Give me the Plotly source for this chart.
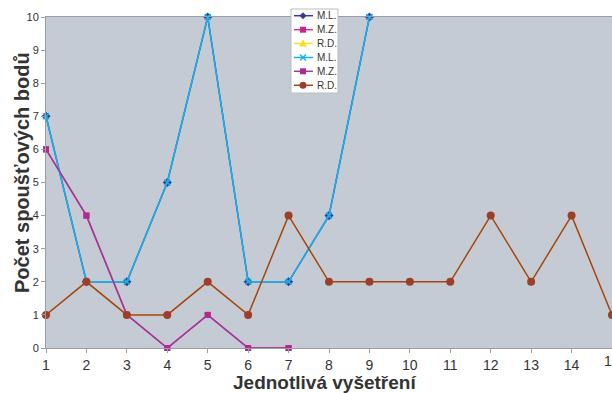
import plotly.graph_objects as go

x_ml = [1, 2, 3, 4, 5, 6, 7, 8, 9]
ml = [7, 2, 2, 5, 10, 2, 2, 4, 10]
x_mz = [1, 2, 3, 4, 5, 6, 7]
mz = [6, 4, 1, 0, 1, 0, 0]
x_rd = list(range(1, 16))
rd = [1, 2, 1, 1, 2, 1, 4, 2, 2, 2, 2, 4, 2, 4, 1]
x_ticks = list(range(1, 16))
y_ticks = list(range(0, 11))
legend_names = ["M.L.", "M.Z.", "R.D.", "M.L.", "M.Z.", "R.D."]

W, H = 612, 393
L, R, T, B = 46, 0, 17, 45
PW, PH = W - L - R, H - T - B

def px(xp):
    return (xp - L) / PW

def py(yp):
    return (H - B - yp) / PH

styles = [
    dict(line="#3a3a96", marker="#3a3a96", symbol="diamond", size=7),
    dict(line="#e0308f", marker="#c8248c", symbol="square", size=6),
    dict(line="#f2e21c", marker="#f2e21c", symbol="triangle-up", size=8),
    dict(line="#19b2e6", marker="#19b2e6", symbol="x-thin", size=6),
    dict(line="#9a3c98", marker="#b02a90", symbol="square", size=6),
    dict(line="#9e4130", marker="#9c3e2c", symbol="circle", size=8),
]
series = [(x_ml, ml), (x_mz, mz), (x_rd, rd), (x_ml, ml), (x_mz, mz), (x_rd, rd)]
tick_font = dict(family="Liberation Sans Narrow, Arial Narrow, sans-serif", size=14, color="#333333")

fig = go.Figure()
for (xs, ys), name, st in zip(series, legend_names, styles):
    mk = dict(symbol=st["symbol"], size=st["size"], color=st["marker"])
    if st["symbol"] == "x-thin":
        mk["line"] = dict(color=st["marker"], width=1.5)
    fig.add_trace(go.Scatter(x=xs, y=ys, name=name, mode="lines+markers", cliponaxis=False,
                             line=dict(color=st["line"], width=1.5), marker=mk, showlegend=False))

# custom compact legend (layout decoration)
shapes = []
annotations = []
box_x0, box_x1, box_y0, box_y1 = 291, 338, 9, 93
shapes.append(dict(type="rect", xref="paper", yref="paper", x0=px(box_x0), x1=px(box_x1),
                   y0=py(box_y1), y1=py(box_y0), fillcolor="white",
                   line=dict(color="#bdbdbd", width=1), layer="above"))
item_y = [15.7, 29.7, 43.5, 57.5, 71.3, 85.3]
mx = 303
for yy, name, st in zip(item_y, legend_names, styles):
    shapes.append(dict(type="line", xref="paper", yref="paper", x0=px(294), x1=px(313),
                       y0=py(yy), y1=py(yy), line=dict(color=st["line"], width=1.5), layer="above"))
    s = st["symbol"]
    c = st["marker"]
    if s == "diamond":
        d = 3.5
        path = f"M {px(mx-d)} {py(yy)} L {px(mx)} {py(yy-d)} L {px(mx+d)} {py(yy)} L {px(mx)} {py(yy+d)} Z"
        shapes.append(dict(type="path", xref="paper", yref="paper", path=path, fillcolor=c,
                           line=dict(color=c, width=0), layer="above"))
    elif s == "square":
        d = 3
        shapes.append(dict(type="rect", xref="paper", yref="paper", x0=px(mx-d), x1=px(mx+d),
                           y0=py(yy+d), y1=py(yy-d), fillcolor=c, line=dict(color=c, width=0), layer="above"))
    elif s == "triangle-up":
        d = 4
        path = f"M {px(mx-d)} {py(yy+3)} L {px(mx)} {py(yy-4)} L {px(mx+d)} {py(yy+3)} Z"
        shapes.append(dict(type="path", xref="paper", yref="paper", path=path, fillcolor=c,
                           line=dict(color=c, width=0), layer="above"))
    elif s == "x-thin":
        d = 3
        for (a, b, cc, dd) in [(mx-d, yy-d, mx+d, yy+d), (mx-d, yy+d, mx+d, yy-d)]:
            shapes.append(dict(type="line", xref="paper", yref="paper", x0=px(a), x1=px(cc),
                               y0=py(b), y1=py(dd), line=dict(color=c, width=1.5), layer="above"))
    elif s == "circle":
        d = 3.5
        shapes.append(dict(type="circle", xref="paper", yref="paper", x0=px(mx-d), x1=px(mx+d),
                           y0=py(yy+d), y1=py(yy-d), fillcolor=c, line=dict(color=c, width=0), layer="above"))
    annotations.append(dict(text=name, xref="paper", yref="paper", x=px(314.5), y=py(yy),
                            xanchor="left", yanchor="middle", showarrow=False,
                            font=dict(size=10, color="#333333")))

# last tick label (cut by the right edge like in the source)
annotations.append(dict(text=str(x_ticks[-1]), xref="x", yref="paper", x=x_ticks[-1], y=py(361),
                        xanchor="center", yanchor="middle", showarrow=False, font=tick_font))
annotations.append(dict(text="Jednotlivá vyšetření", xref="paper", yref="paper",
                        x=px(324), y=py(382), xanchor="center", yanchor="middle", showarrow=False,
                        font=dict(size=19, color="#333333", weight="bold")))
annotations.append(dict(text="Počet spoušťových bodů", xref="paper", yref="paper",
                        x=px(22), y=py(173), xanchor="center", yanchor="middle", showarrow=False,
                        textangle=-90, font=dict(size=20, color="#333333", weight="bold")))

fig.update_layout(
    width=W, height=H,
    margin=dict(l=L, r=R, t=T, b=B, autoexpand=False),
    paper_bgcolor="white",
    plot_bgcolor="#c4cbd5",
    font=dict(family="Liberation Sans, Arial, sans-serif", color="#333333"),
    showlegend=False,
    shapes=shapes,
    annotations=annotations,
    xaxis=dict(range=[1, 15], tickvals=x_ticks[:-1], ticktext=[str(v) for v in x_ticks[:-1]],
               showgrid=False, zeroline=False, showline=True, mirror=True,
               linecolor="#9a9ea4", linewidth=1, automargin=False,
               ticks="outside", ticklen=4, tickcolor="#9a9ea4",
               tickfont=tick_font),
    yaxis=dict(range=[0, 10], tickvals=y_ticks, showgrid=False, zeroline=False,
               showline=True, mirror=True, linecolor="#9a9ea4", linewidth=1, automargin=False,
               ticks="outside", ticklen=4, tickcolor="#9a9ea4",
               tickfont=dict(size=11, color="#333333")),
)

fig.write_html("out.html", config={"displayModeBar": False},
               post_script="document.body.style.margin='0px';document.body.style.overflow='hidden';")
